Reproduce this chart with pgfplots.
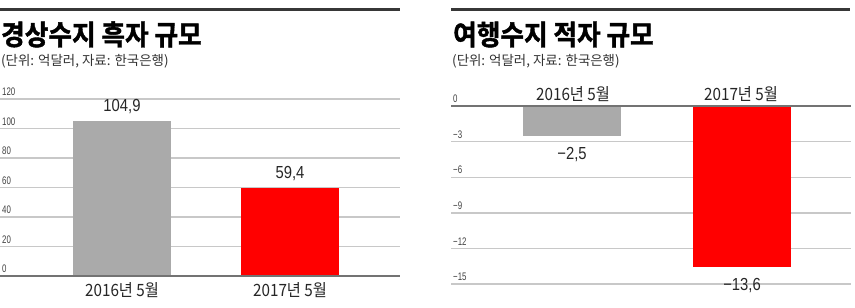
\documentclass[border=0pt]{standalone}
\usepackage{fontspec}
\usepackage{pgfplots}
\pgfplotsset{compat=1.18}
\usepackage{pgfplotstable}
\setmainfont{Noto Sans CJK KR}
\newfontfamily\krnarrow[FakeStretch=0.9]{Noto Sans CJK KR}
\newfontfamily\titlefont[FakeStretch=0.92, FakeBold=1.5]{Noto Sans CJK KR Bold}
\newfontfamily\numfont[FakeStretch=0.85]{Liberation Sans}
\newfontfamily\tickfont[FakeStretch=0.72]{Liberation Sans}
\definecolor{barGray}{RGB}{170,170,170}
\definecolor{barRed}{RGB}{255,0,0}
\definecolor{gridGray}{RGB}{200,200,200}
\definecolor{baseGray}{RGB}{115,115,115}
\definecolor{ruleDark}{RGB}{55,55,55}

\pgfplotstableread{
x y lab
122 104.9 104,9
}\curA
\pgfplotstableread{
x y lab
290 59.4 59,4
}\curB
\pgfplotstableread{
x y lab
121 -2.5 −2,5
}\travA
\pgfplotstableread{
x y lab
291 -13.6 −13,6
}\travB

\pgfplotsset{
  panel/.style={
    scale only axis, width=400bp, xmin=0, xmax=400,
    /pgf/number format/assume math mode=true,
    axis line style={draw=none}, tick style={draw=none},
    major tick length=0pt,
    ymajorgrids, grid style={gridGray, line width=1.4bp},
    yticklabel style={font=\tickfont\fontsize{11}{11}\selectfont, text=black!75,
      anchor=south west, inner sep=0pt, xshift=2bp, yshift=3bp},
    xticklabel style={font=\krnarrow\fontsize{17}{17}\selectfont, text=black!85, inner sep=0pt},
    xtick={122,290},
    xticklabels={2016년 5월, 2017년 5월},
    clip=false,
    ybar, bar width=98bp,
    point meta=explicit symbolic,
    nodes near coords,
    every node near coord/.append style={font=\numfont\fontsize{17.5}{17.5}\selectfont, text=black!85, inner sep=0pt},
  },
}

\begin{document}
\begin{tikzpicture}[x=1bp,y=1bp]
\path[use as bounding box] (0,0) rectangle (855,307);

% ---------- left panel ----------
\draw[ruleDark, line width=3bp] (0,297) -- (400,297);
\node[anchor=base west, inner sep=0pt] at (1,262) {\titlefont\fontsize{28}{28}\selectfont 경상수지 흑자 규모};
\node[anchor=base west, inner sep=0pt, text=black!80] at (1,242) {\fontsize{13.5}{13.5}\selectfont (단위: 억달러, 자료: 한국은행)};

\begin{axis}[panel,
  at={(0bp,31bp)}, anchor=south west, height=177bp,
  ymin=0, ymax=120, ytick={0,20,...,120},
  yticklabels={0,20,40,60,80,100,120},
  axis x line*=bottom, axis y line*=left,
  xticklabel style={anchor=north, yshift=-6bp},
  every node near coord/.append style={anchor=south, yshift=7bp},
]
\addplot[fill=barGray, draw=none, bar shift=0pt] table[x=x, y=y, meta=lab] {\curA};
\addplot[fill=barRed, draw=none, bar shift=0pt] table[x=x, y=y, meta=lab] {\curB};
\draw[baseGray, line width=2bp] (axis cs:0,0) -- (axis cs:400,0);
\end{axis}

% ---------- right panel ----------
\draw[ruleDark, line width=3bp] (451,297) -- (850,297);
\node[anchor=base west, inner sep=0pt] at (453,262) {\titlefont\fontsize{28}{28}\selectfont 여행수지 적자 규모};
\node[anchor=base west, inner sep=0pt, text=black!80] at (452,242) {\fontsize{13.5}{13.5}\selectfont (단위: 억달러, 자료: 한국은행)};

\begin{axis}[panel,
  at={(451bp,23bp)}, anchor=south west, height=178bp,
  ymin=-15, ymax=0, ytick={-15,-12,...,0},
  yticklabels={−15,−12,−9,−6,−3,0},
  axis x line*=top, axis y line*=left,
  xticklabel style={anchor=south, yshift=4bp},
  every node near coord/.append style={anchor=north, yshift=-11bp},
]
\addplot[fill=barGray, draw=none, bar shift=0pt] table[x=x, y=y, meta=lab] {\travA};
\addplot[fill=barRed, draw=none, bar shift=0pt] table[x=x, y=y, meta=lab] {\travB};
\draw[baseGray, line width=2bp] (axis cs:0,0) -- (axis cs:400,0);
\end{axis}
\end{tikzpicture}
\end{document}
